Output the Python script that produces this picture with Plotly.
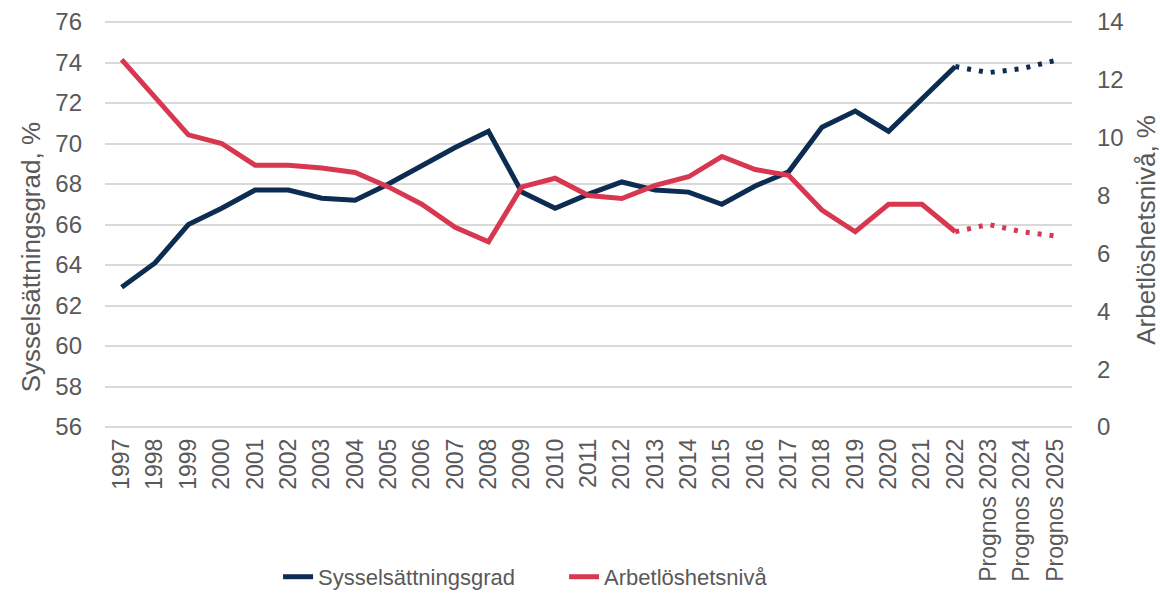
import plotly.graph_objects as go

years = [str(y) for y in range(1997, 2023)]
prognos = ["Prognos 2023", "Prognos 2024", "Prognos 2025"]
categories = years + prognos

# Sysselsättningsgrad, % (vänster axel)
syss = [62.9, 64.1, 66.0, 66.8, 67.7, 67.7, 67.3, 67.2, 68.0, 68.9, 69.8, 70.6, 67.6,
        66.8, 67.5, 68.1, 67.7, 67.6, 67.0, 67.9, 68.6, 70.8, 71.6, 70.6, 72.2, 73.8]
syss_prognos = [73.8, 73.5, 73.7, 74.1]

# Arbetlöshetsnivå, % (höger axel)
arb = [12.7, 11.4, 10.1, 9.8, 9.05, 9.05, 8.95, 8.8, 8.3, 7.7, 6.9, 6.4, 8.3,
       8.6, 8.0, 7.9, 8.35, 8.65, 9.35, 8.9, 8.7, 7.5, 6.75, 7.7, 7.7, 6.75]
arb_prognos = [6.75, 7.0, 6.75, 6.6]

navy = "#0c2c52"
red = "#d8384f"
grey = "#595959"
font = "Liberation Sans, Arial, sans-serif"

# 2px of padding so plotly keeps the outer gridlines (56 and 76)
pad_left = 2 / 20.25
pad_right = 2 / (405 / 14)

fig = go.Figure()
fig.add_trace(go.Scatter(x=years, y=syss, name="Sysselsättningsgrad", mode="lines",
                         line=dict(color=navy, width=5)))
fig.add_trace(go.Scatter(x=years, y=arb, name="Arbetlöshetsnivå", mode="lines",
                         line=dict(color=red, width=5), yaxis="y2"))
fig.add_trace(go.Scatter(x=[years[-1]] + prognos, y=syss_prognos, mode="lines",
                         line=dict(color=navy, width=5, dash="4px,8px"), showlegend=False))
fig.add_trace(go.Scatter(x=[years[-1]] + prognos, y=arb_prognos, mode="lines",
                         line=dict(color=red, width=5, dash="4px,8px"), showlegend=False,
                         yaxis="y2"))

fig.update_layout(
    width=1160, height=596,
    margin=dict(l=105, r=88, t=20, b=167),
    plot_bgcolor="white", paper_bgcolor="white",
    font=dict(family=font, size=22, color=grey),
    xaxis=dict(type="category", categoryorder="array", categoryarray=categories,
               range=[-0.5, len(categories) - 0.5], tickangle=-90,
               showgrid=False, zeroline=False, showline=False, ticks="",
               ticklabelstandoff=4, tickfont=dict(size=23), automargin=False),
    yaxis=dict(range=[56 - pad_left, 76 + pad_left], tickvals=list(range(56, 77, 2)),
               showgrid=True, gridcolor="#d9d9d9", gridwidth=2, zeroline=False,
               showline=False, ticks="", ticklabelstandoff=22, tickfont=dict(size=24),
               automargin=False),
    yaxis2=dict(range=[0 - pad_right, 14 + pad_right], tickvals=list(range(0, 15, 2)),
                overlaying="y", side="right", showgrid=False, zeroline=False,
                showline=False, ticks="", ticklabelstandoff=24, tickfont=dict(size=24),
                automargin=False),
    legend=dict(orientation="h", xref="container", x=0.2397, xanchor="left",
                yref="container", y=0.032, yanchor="middle",
                font=dict(size=22), entrywidth=241, bgcolor="rgba(0,0,0,0)"),
    annotations=[
        dict(text="Sysselsättningsgrad, %", textangle=-90, xref="paper", yref="paper",
             x=-0.0765, y=0.42, xanchor="center", yanchor="middle", showarrow=False,
             font=dict(size=26)),
        dict(text="Arbetlöshetsnivå, %", textangle=-90, xref="paper", yref="paper",
             x=1.0765, y=0.487, xanchor="center", yanchor="middle", showarrow=False,
             font=dict(size=26)),
    ],
)

# the page body has a default 8px margin; remove it so the chart fills the window
fig.write_html("out.html", config={"displayModeBar": False},
               post_script="document.body.style.margin='0';")
